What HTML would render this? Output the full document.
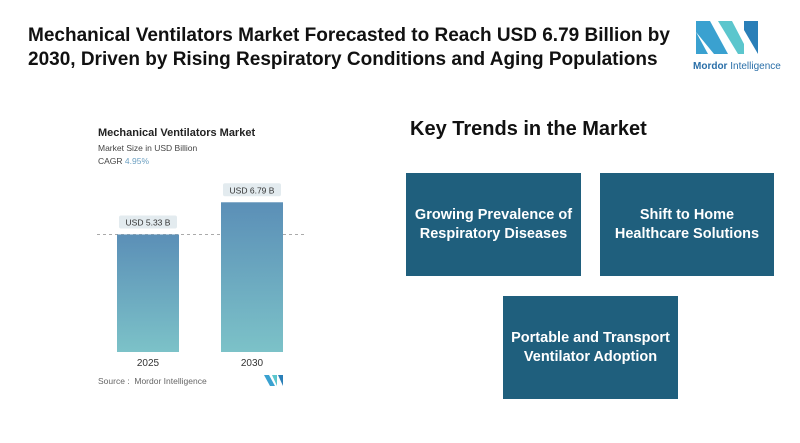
<!DOCTYPE html>
<html><head><meta charset="utf-8"><style>
body{margin:0;width:800px;height:443px;background:#fff;font-family:"Liberation Sans",sans-serif;position:relative;overflow:hidden}
.abs{position:absolute}
.title{left:28px;top:24px;font-size:19px;font-weight:bold;color:#111;line-height:24px;letter-spacing:0px;white-space:nowrap}
.box{position:absolute;background:#1f5f7d;color:#fff;font-weight:bold;font-size:14.5px;display:flex;align-items:center;justify-content:center;text-align:center;line-height:19px}
</style></head><body>
<div class="abs title">Mechanical Ventilators Market Forecasted to Reach USD 6.79 Billion by<br>2030, Driven by Rising Respiratory Conditions and Aging Populations</div>
<svg class="abs" style="left:692px;top:18px" width="90" height="62">
<polygon points="4,3 18,3 36,36 36,36 22,36 4,14" fill="#3aa1d0"/>
<polygon points="4,14 4,36 16,36" fill="#3aa1d0"/>
<polygon points="26,3 40,3 52,26 52,36 46,36" fill="#5cc6cd"/>
<polygon points="52,3 66,3 66,36 52,12" fill="#2a7fb8"/>
<text x="1" y="51" font-size="10" fill="#2a6fa8" font-family="Liberation Sans"><tspan font-weight="bold">Mordor</tspan> Intelligence</text>
</svg>
<div class="abs" style="left:98px;top:127px;font-size:11px;font-weight:bold;color:#222">Mechanical Ventilators Market</div>
<div class="abs" style="left:98px;top:143px;font-size:8.5px;color:#444">Market Size in USD Billion</div>
<div class="abs" style="left:98px;top:156px;font-size:8.5px;color:#444">CAGR <span style="color:#6b9fc1">4.95%</span></div>
<svg id="chart" class="abs" style="left:0;top:0" width="400" height="443">
<defs><linearGradient id="g" x1="0" y1="0" x2="0" y2="1"><stop offset="0" stop-color="#5b8fb7"/><stop offset="1" stop-color="#7cc2c8"/></linearGradient></defs>
</svg>
<div class="abs" style="left:98px;top:376px;font-size:8.5px;color:#666">Source :&nbsp; Mordor Intelligence</div>
<div class="abs" style="left:410px;top:118px;font-size:20px;font-weight:bold;color:#111">Key Trends in the Market</div>
<div class="box" style="left:406px;top:173px;width:175px;height:103px">Growing Prevalence of<br>Respiratory Diseases</div>
<div class="box" style="left:600px;top:173px;width:174px;height:103px">Shift to Home<br>Healthcare Solutions</div>
<div class="box" style="left:503px;top:296px;width:175px;height:103px">Portable and Transport<br>Ventilator Adoption</div>
<script>
const categories=["2025","2030"];
const values=[5.33,6.79];
const valueLabels=["USD 5.33 B","USD 6.79 B"];
const svg=document.getElementById('chart');const NS="http://www.w3.org/2000/svg";
const base=352,k=22.05,x0=117,step=104,bw=62;
const y=v=>base-v*k;const xp=i=>x0+i*step;
function mk(t,a){const e=document.createElementNS(NS,t);for(const n in a)e.setAttribute(n,a[n]);svg.appendChild(e);return e;}
const dl=mk('line',{x1:97,x2:305,y1:y(values[0]),y2:y(values[0]),stroke:'#aaa','stroke-dasharray':'3,3','stroke-width':1});


categories.forEach((c,i)=>{
const r=mk('rect',{x:xp(i),y:y(values[i]),width:bw,height:values[i]*k,fill:'url(#g)'});


const p=mk('rect',{x:xp(i)+2,y:y(values[i])-19,width:bw-4,height:13,rx:2,fill:'#e3ebef'});


const t=mk('text',{x:xp(i)+bw/2,y:y(values[i])-9,'text-anchor':'middle','font-size':8.5,fill:'#333','font-family':'Liberation Sans'});t.textContent=valueLabels[i];


const l=mk('text',{x:xp(i)+bw/2,y:base+14,'text-anchor':'middle','font-size':10,fill:'#333','font-family':'Liberation Sans'});l.textContent=c;


});
</script>
<svg class="abs" style="left:264px;top:375px" width="20" height="11"><polygon points="0,0 5,0 11,11 6,11" fill="#3aa1d0"/><polygon points="8,0 13,0 13,11" fill="#5cc6cd"/><polygon points="14,0 19,0 19,11" fill="#2a7fb8"/></svg>
</body></html>
